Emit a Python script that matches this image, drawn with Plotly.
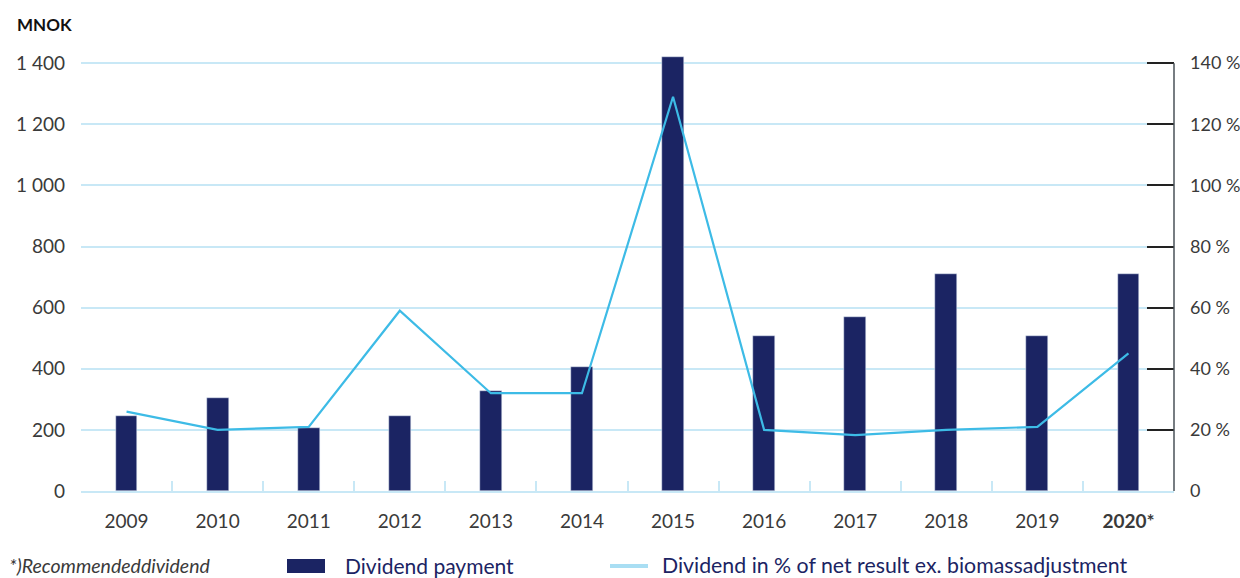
import plotly.graph_objects as go

years = ["2009", "2010", "2011", "2012", "2013", "2014", "2015", "2016", "2017", "2018", "2019", "2020*"]
year_labels = ["2009", "2010", "2011", "2012", "2013", "2014", "2015", "2016", "2017", "2018", "2019", "<b>2020*</b>"]
dividend_mnok = [245, 304, 206, 245, 327, 406, 1420, 507, 569, 710, 507, 710]
dividend_pct = [26, 20, 21, 59, 32, 32, 129, 20, 18.3, 20, 21, 45]

left_ticks = [0, 200, 400, 600, 800, 1000, 1200, 1400]
left_ticktext = ["0", "200", "400", "600", "800", "1 000", "1 200", "1 400"]
right_ticks = [0, 20, 40, 60, 80, 100, 120, 140]
right_ticktext = ["0", "20 %", "40 %", "60 %", "80 %", "100 %", "120 %", "140 %"]

NAVY = "#1b2463"
LINE = "#3dbbe6"
GRID = "#c8e8f6"
TEXT = "#3a3a3a"
FONT = "Lato"

# screen px -> paper coords (plot area spans screen x 81..1174, y 54..491)
def px(x):
    return (x - 81) / 1093

def py(y):
    return (491 - y) / 437

fig = go.Figure()
fig.add_trace(go.Bar(x=years, y=dividend_mnok, marker_color=NAVY, width=0.24,
                     name="Dividend payment", showlegend=False))
fig.add_trace(go.Scatter(x=years, y=dividend_pct, yaxis="y2", mode="lines",
                         line=dict(color=LINE, width=2.2),
                         name="Dividend in % of net result ex. biomassadjustment", showlegend=False))

fig.update_layout(
    width=1240, height=578,
    margin=dict(l=81, r=66, t=54, b=87, autoexpand=False),
    paper_bgcolor="white", plot_bgcolor="white",
    font=dict(family=FONT, size=19, color=TEXT),
    bargap=0,
    xaxis=dict(
        type="category", tickmode="array", tickvals=years, ticktext=year_labels,
        tickson="boundaries", ticks="inside", ticklen=10, tickwidth=2, tickcolor=GRID,
        showline=True, linecolor=GRID, linewidth=2, automargin=False,
        showgrid=False, zeroline=False, ticklabelstandoff=12,
        tickfont=dict(size=19, color=TEXT, family=FONT),
    ),
    yaxis=dict(
        range=[0, 1430], tickmode="array", tickvals=left_ticks, ticktext=left_ticktext,
        showgrid=True, gridcolor=GRID, gridwidth=1.5, zeroline=False, automargin=False,
        showline=False, ticks="", ticklabelstandoff=15,
        tickfont=dict(size=19, color=TEXT, family=FONT),
    ),
    yaxis2=dict(
        range=[0, 143], overlaying="y", side="right", tickmode="array",
        tickvals=right_ticks, ticktext=right_ticktext, automargin=False,
        showgrid=False, zeroline=False, showline=False,
        ticks="inside", ticklen=27, tickwidth=1.5, tickcolor="#222222",
        ticklabelstandoff=15,
        tickfont=dict(size=18, color=TEXT, family=FONT),
    ),
)

# right axis line (0 to 140 %)
fig.add_shape(type="line", xref="paper", yref="y2", x0=1, x1=1, y0=0, y1=140,
              line=dict(color="#4a5258", width=1.5))

# title of left axis
fig.add_annotation(text="<b>MNOK</b>", xref="paper", yref="paper",
                   x=px(15), y=py(24), xanchor="left", yanchor="middle",
                   showarrow=False, font=dict(size=17, color="#111111", family=FONT))

# footnote
fig.add_annotation(text="<i>*)Recommendeddividend</i>", xref="paper", yref="paper",
                   x=px(7), y=py(565), xanchor="left", yanchor="middle",
                   showarrow=False, font=dict(size=19.5, color=TEXT, family=FONT))

# legend (manual)
fig.add_shape(type="rect", xref="paper", yref="paper",
              x0=px(287), x1=px(325), y0=py(573), y1=py(559),
              fillcolor=NAVY, line=dict(width=0))
fig.add_annotation(text="Dividend payment", xref="paper", yref="paper",
                   x=px(343), y=py(565), xanchor="left", yanchor="middle",
                   showarrow=False, font=dict(size=21, color=NAVY, family=FONT))
fig.add_shape(type="line", xref="paper", yref="paper",
              x0=px(610), x1=px(648), y0=py(566), y1=py(566),
              line=dict(color="#a9def3", width=4))
fig.add_annotation(text="Dividend in % of net result ex. biomassadjustment", xref="paper", yref="paper",
                   x=px(660), y=py(565), xanchor="left", yanchor="middle",
                   showarrow=False, font=dict(size=21.3, color=NAVY, family=FONT))

fig.write_html(
    "out.html",
    config={"displayModeBar": False},
    post_script="document.body.style.margin='0';document.body.style.overflow='hidden';",
)
